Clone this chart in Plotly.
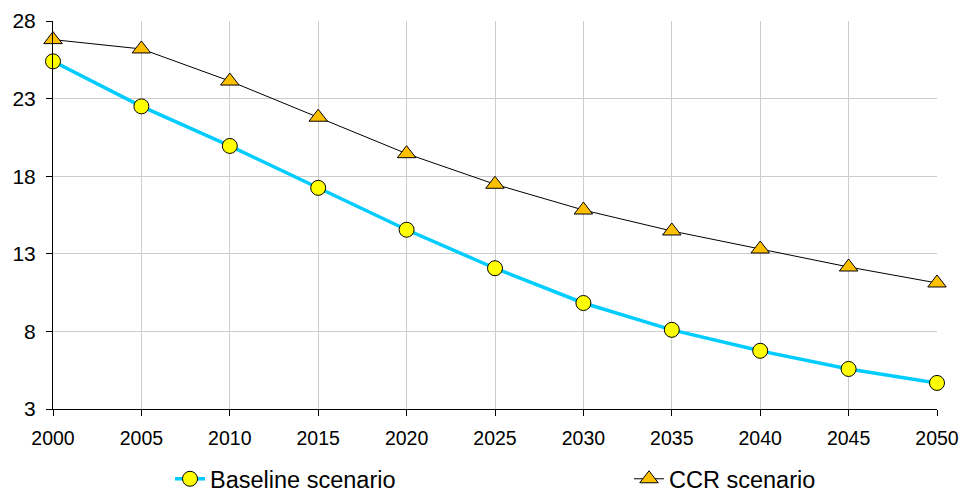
import plotly.graph_objects as go

# Scenario projections, 2000-2050
years = [2000, 2005, 2010, 2015, 2020, 2025, 2030, 2035, 2040, 2045, 2050]
baseline = [25.4, 22.5, 19.95, 17.25, 14.55, 12.07, 9.83, 8.1, 6.75, 5.58, 4.68]
ccr = [26.8, 26.2, 24.13, 21.8, 19.45, 17.48, 15.82, 14.47, 13.31, 12.15, 11.12]
y_ticks = [3, 8, 13, 18, 23, 28]
x_ticks = years

FONT = "Liberation Sans, Arial, sans-serif"

fig = go.Figure()

fig.add_trace(go.Scatter(
    x=years, y=baseline, name="Baseline scenario",
    mode="lines+markers",
    line=dict(color="#00CCFF", width=3.5),
    marker=dict(symbol="circle", size=15, color="#FFFF00",
                line=dict(color="#000000", width=1)),
    cliponaxis=False, legend="legend",
))

fig.add_trace(go.Scatter(
    x=years, y=ccr, name="CCR scenario",
    mode="lines+markers",
    line=dict(color="#000000", width=1),
    marker=dict(symbol="triangle-up", size=16, color="#FFC000",
                line=dict(color="#000000", width=1)),
    cliponaxis=False, legend="legend2",
))

fig.update_layout(
    width=961, height=494,
    margin=dict(l=53, r=24, t=21, b=85, autoexpand=False),
    paper_bgcolor="white", plot_bgcolor="white",
    font=dict(family=FONT, color="#000000"),
    showlegend=True,
    legend=dict(xref="container", yref="container", x=170 / 961, y=15 / 494,
                xanchor="left", yanchor="middle", orientation="h",
                font=dict(size=23.5, family=FONT), bgcolor="rgba(0,0,0,0)"),
    legend2=dict(xref="container", yref="container", x=629 / 961, y=15 / 494,
                 xanchor="left", yanchor="middle", orientation="h",
                 font=dict(size=23.5, family=FONT), bgcolor="rgba(0,0,0,0)"),
    xaxis=dict(
        range=[2000, 2050], tickvals=x_ticks, ticktext=[str(v) for v in x_ticks],
        showgrid=True, gridcolor="#CCCCCC", gridwidth=1,
        showline=True, linecolor="#000000", linewidth=1,
        ticks="outside", ticklen=6, tickcolor="#000000",
        tickfont=dict(size=19.5, family=FONT), zeroline=False,
        ticklabelstandoff=6, automargin=False,
    ),
    yaxis=dict(
        range=[3, 28], tickvals=y_ticks, ticktext=[str(v) for v in y_ticks],
        showgrid=True, gridcolor="#CCCCCC", gridwidth=1,
        showline=True, linecolor="#000000", linewidth=1,
        ticks="outside", ticklen=6, tickcolor="#000000",
        tickfont=dict(size=21, family=FONT), zeroline=False,
        ticklabelstandoff=6, automargin=False,
    ),
)

fig.write_html("out.html")
